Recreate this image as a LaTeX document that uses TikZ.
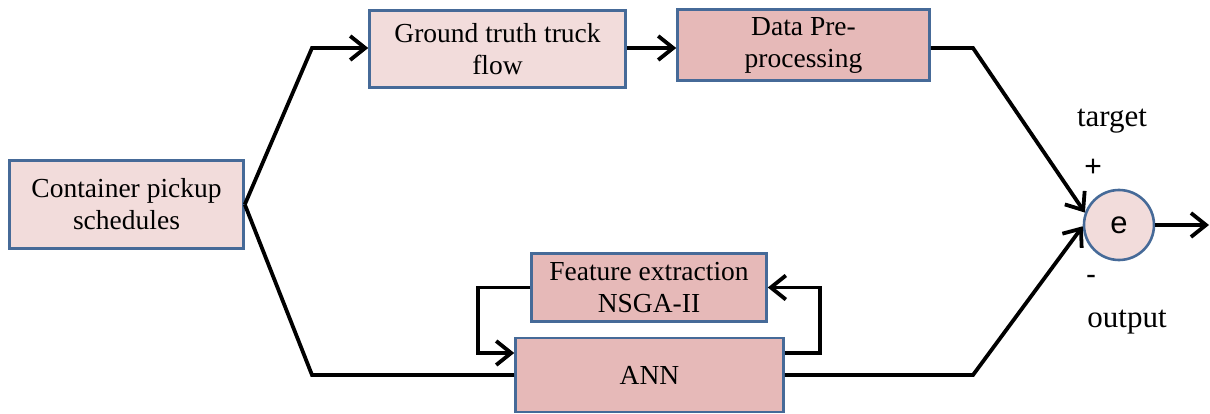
\documentclass[tikz,border=0pt]{standalone}
\usepackage{fontspec}
\setmainfont{Liberation Serif}
\newfontfamily\arialfont{Liberation Sans}
\usetikzlibrary{arrows.meta}
\definecolor{boxlight}{RGB}{242,220,219}
\definecolor{boxdark}{RGB}{230,185,184}
\definecolor{boxedge}{RGB}{70,106,152}
\tikzset{
  block/.style={draw=boxedge, line width=2.6pt, align=center, inner sep=0pt,
    font=\fontsize{27.5}{32}\selectfont},
  lightblock/.style={block, fill=boxlight},
  darkblock/.style={block, fill=boxdark},
  conn/.style={line width=3.8pt, line join=miter, -{Straight Barb[length=15pt,width=24pt,line width=3.8pt]}},
  wire/.style={line width=3.8pt, line join=miter},
  lbl/.style={inner sep=0pt, font=\fontsize{31}{36}\selectfont},
  sgn/.style={inner sep=0pt, font=\arialfont\fontsize{30}{36}\selectfont},
}
\begin{document}
\begin{tikzpicture}[x=1pt,y=-1pt]
\useasboundingbox (0,0) rectangle (1210,414);

% processing blocks
\node[lightblock, minimum width=234pt, minimum height=88pt] (cont) at (126.5,204.5) {Container pickup\\schedules};
\node[lightblock, minimum width=256pt, minimum height=77pt] (gt) at (497.5,49) {Ground truth truck\\flow};
\node[darkblock, minimum width=252pt, minimum height=71pt] (dp) at (803.5,45) {Data Pre-\\processing};
\node[darkblock, minimum width=235pt, minimum height=68pt] (feat) at (649,287.5) {Feature extraction\\NSGA-II};
\node[darkblock, minimum width=268pt, minimum height=74pt] (ann) at (649.5,375) {ANN};

% error summing junction
\node[circle, draw=boxedge, line width=2.6pt, fill=boxlight, minimum size=70pt, inner sep=0pt,
  font=\arialfont\fontsize{31}{36}\selectfont] (err) at (1119,225) {e};
\node[lbl] (tgt) at (1112,121) {target};
\node[sgn] (plus) at (1093,168) {+};
\node[sgn] (minus) at (1091,280) {-};
\node[lbl] (out) at (1127,322) {output};

% bend points
\coordinate (forkup) at (312,48);
\coordinate (forklo) at (312,375);
\coordinate (joinup) at (973,48);
\coordinate (joinlo) at (973,375);
\coordinate (outend) at (1209,225);

% forward paths
\draw[conn] (cont.east) -- (forkup) -- (gt.west |- forkup);
\draw[wire] (cont.east) -- (forklo) -- (ann.west |- forklo);
\draw[conn] (gt.east |- forkup) -- (dp.west |- forkup);
\draw[conn] (dp.east |- joinup) -- (joinup) -- (err.160);
\draw[conn] (ann.east |- joinlo) -- (joinlo) -- (err.182);
\draw[conn] (err.east) -- (outend);

% feature selection loop
\draw[conn] (feat.west) -| ([xshift=-36pt,yshift=22pt]ann.west) -- ([yshift=22pt]ann.west);
\draw[conn] ([yshift=22pt]ann.east) -| ([xshift=35pt,yshift=22pt]ann.east) |- (feat.east);
\end{tikzpicture}
\end{document}
